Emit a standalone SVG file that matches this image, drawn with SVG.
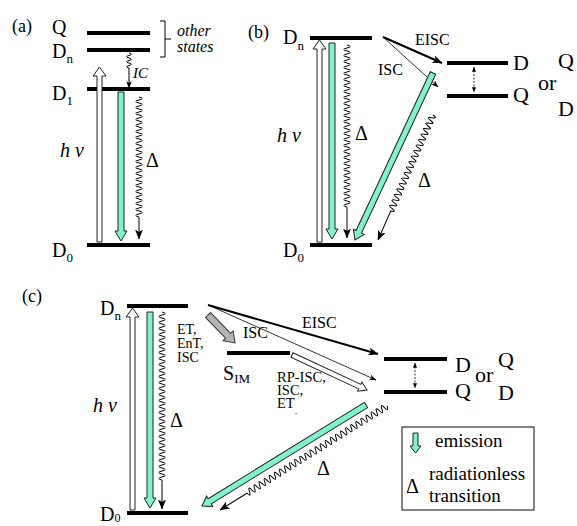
<svg xmlns="http://www.w3.org/2000/svg" width="577" height="526" viewBox="0 0 577 526" font-family="Liberation Serif, Times New Roman, DejaVu Serif, serif">
<style>
text{font-family:"Liberation Serif","Times New Roman","DejaVu Serif",serif;fill:#000}
.lv{stroke:#000;stroke-width:4;fill:none}
.em{fill:#80F2CC;stroke:#222;stroke-width:1}
.hv{fill:#fff;stroke:#222;stroke-width:1}
.gr{fill:#b4b4b4;stroke:#333;stroke-width:1}
.wv{fill:none;stroke:#000;stroke-width:1}
.lbl{font-size:20px}
.big{font-size:22px}
.sm{font-size:16px}
.it{font-style:italic}
</style>
<defs>
<marker id="ah" viewBox="0 0 10 8" refX="9.5" refY="4" markerWidth="10" markerHeight="8" markerUnits="userSpaceOnUse" orient="auto"><path d="M0 0L10 4L0 8L2.5 4z" fill="#000"/></marker>
<marker id="ahs" viewBox="0 0 10 8" refX="9.5" refY="4" markerWidth="7" markerHeight="5.6" markerUnits="userSpaceOnUse" orient="auto"><path d="M0 0L10 4L0 8L2.5 4z" fill="#000"/></marker>
<marker id="ahd" viewBox="0 0 10 8" refX="9.5" refY="4" markerWidth="5" markerHeight="4" markerUnits="userSpaceOnUse" orient="auto-start-reverse"><path d="M0 0L10 4L0 8z" fill="#000"/></marker>
</defs>

<!-- Panel (a) -->
<g id="panel-a">
<text x="12" y="32" font-size="18">(a)</text>
<g id="a-Q"><line class="lv" x1="87" y1="33" x2="150" y2="33"/><text class="lbl" x="52" y="34">Q</text></g>
<g id="a-Dn"><line class="lv" x1="87" y1="50" x2="150" y2="50"/><text class="lbl" x="52" y="58">D<tspan font-size="13" dy="5">n</tspan></text></g>
<g id="a-D1"><line class="lv" x1="87" y1="89" x2="150" y2="89"/><text class="lbl" x="52" y="100">D<tspan font-size="13" dy="5">1</tspan></text></g>
<g id="a-D0"><line class="lv" x1="87" y1="245" x2="150" y2="245"/><text class="lbl" x="52" y="257">D<tspan font-size="13" dy="5">0</tspan></text></g>
<g id="a-other"><path d="M160 21H165V57H160M165 39H171" fill="none" stroke="#000" stroke-width="1"/><text class="it" x="177" y="36" font-size="16">other</text><text class="it" x="177" y="52" font-size="16">states</text></g>
</g>

<!-- Panel (b) -->
<g id="panel-b">
<text x="248" y="38" font-size="18">(b)</text>
<g id="b-Dn"><line class="lv" x1="310" y1="38" x2="372" y2="38"/><text class="lbl" x="283" y="44">D<tspan font-size="13" dy="6">n</tspan></text></g>
<g id="b-D0"><line class="lv" x1="310" y1="245" x2="372" y2="245"/><text class="lbl" x="283" y="257">D<tspan font-size="13" dy="5">0</tspan></text></g>
<g id="b-upper"><line class="lv" x1="447" y1="63" x2="508" y2="63"/><text class="big" x="513" y="70">D</text><text class="big" x="558" y="68">Q</text></g>
<g id="b-lower"><line class="lv" x1="447" y1="96" x2="508" y2="96"/><text class="big" x="513" y="102">Q</text><text class="big" x="558" y="116">D</text></g>
<text class="big" x="538" y="90">or</text>
</g>

<!-- Panel (c) -->
<g id="panel-c">
<text x="22" y="302" font-size="18">(c)</text>
<g id="c-Dn"><line class="lv" x1="127" y1="306" x2="188" y2="306"/><text class="lbl" x="100" y="315">D<tspan font-size="13" dy="5">n</tspan></text></g>
<g id="c-D0"><line class="lv" x1="127" y1="513" x2="188" y2="513"/><text class="lbl" x="100" y="521">D<tspan font-size="12" dy="1">0</tspan></text></g>
<g id="c-SIM"><line class="lv" x1="227" y1="353" x2="290" y2="353"/><text class="lbl" x="223" y="380">S<tspan font-size="13" dy="3">IM</tspan></text></g>
<g id="c-upper"><line class="lv" x1="384" y1="359" x2="447" y2="359"/><text class="big" x="455" y="372">D</text><text class="big" x="498" y="367">Q</text></g>
<g id="c-lower"><line class="lv" x1="384" y1="392" x2="447" y2="392"/><text class="big" x="455" y="398">Q</text><text class="big" x="498" y="400">D</text></g>
<text class="big" x="475" y="382">or</text>
<g id="legend">
<rect x="402" y="427" width="132" height="83" fill="#fff" stroke="#333" stroke-width="1.2"/>
<polygon class="em" points="413,433 418,433 418,446 421,446 415.5,453 410,446 413,446"/>
<text x="435" y="447" font-size="19">emission</text>
<text x="406" y="493" font-size="20">Δ</text>
<text x="429" y="480" font-size="19">radiationless</text>
<text x="429" y="502" font-size="19">transition</text>
</g>
</g>

<!-- Connectors -->
<g id="connectors">
<!-- (a) -->
<polygon class="hv" points="97,242 97,76 93,76 99.5,67 106,76 102,76 102,242"/>
<polygon class="em" points="118,92 124,92 124,231 127,231 121,241 115,231 118,231"/>
<path class="wv" marker-end="url(#ahs)" d="M129 53q5 1.25 0 2.5t0 2.5t0 2.5t0 2.5t0 2.5t0 2.5L129 88"/>
<path class="wv" marker-end="url(#ah)" d="M139 97q6.5 1.5 0 3t0 3t0 3t0 3t0 3t0 3t0 3t0 3t0 3t0 3t0 3t0 3t0 3t0 3t0 3t0 3t0 3t0 3t0 3t0 3t0 3t0 3t0 3t0 3t0 3t0 3t0 3t0 3t0 3t0 3t0 3t0 3t0 3t0 3t0 3t0 3t0 3t0 3t0 3t0 3L139 239"/>
<text class="it" x="133" y="78" font-size="15">IC</text>
<text class="it" x="60" y="157" font-size="20">h</text><text class="it" x="75" y="157" font-size="20">ν</text>
<text x="146" y="167" font-size="20">Δ</text>

<!-- (b) -->
<polygon class="hv" points="317,242 317,49 313,49 319.5,40 326,49 322,49 322,242"/>
<polygon class="em" points="329,43 335,43 335,229 338,229 332,239 326,229 329,229"/>
<path class="wv" marker-end="url(#ah)" d="M347 45q6.5 1.5 0 3t0 3t0 3t0 3t0 3t0 3t0 3t0 3t0 3t0 3t0 3t0 3t0 3t0 3t0 3t0 3t0 3t0 3t0 3t0 3t0 3t0 3t0 3t0 3t0 3t0 3t0 3t0 3t0 3t0 3t0 3t0 3t0 3t0 3t0 3t0 3t0 3t0 3t0 3t0 3t0 3t0 3t0 3t0 3t0 3t0 3t0 3t0 3t0 3t0 3t0 3t0 3t0 3t0 3L347 238"/>
<line x1="383" y1="37" x2="442" y2="63" stroke="#000" stroke-width="2" marker-end="url(#ah)"/>
<line x1="383" y1="37" x2="438" y2="87" stroke="#000" stroke-width="0.8" marker-end="url(#ahs)"/>
<line x1="474" y1="67" x2="474" y2="92" stroke="#000" stroke-width="0.8" stroke-dasharray="2 1.5" marker-start="url(#ahd)" marker-end="url(#ahd)"/>
<polygon class="em" transform="translate(433 73) rotate(115.04)" points="0,-3 175.3,-3 175.3,-6 184.3,0 175.3,6 175.3,3 0,3"/>
<path class="wv" marker-end="url(#ah)" transform="translate(433 115) rotate(113.75)" d="M0 0q1.5 -6.5 3 0t3 0t3 0t3 0t3 0t3 0t3 0t3 0t3 0t3 0t3 0t3 0t3 0t3 0t3 0t3 0t3 0t3 0t3 0t3 0t3 0t3 0t3 0t3 0t3 0t3 0t3 0t3 0t3 0t3 0t3 0t3 0t3 0t3 0t3 0L136.6 0"/>
<text class="sm" x="415" y="45">EISC</text>
<text class="sm" x="378" y="75">ISC</text>
<text class="it" x="277" y="142" font-size="20">h</text><text class="it" x="292" y="142" font-size="20">ν</text>
<text x="355" y="140" font-size="20">Δ</text>
<text x="418" y="187" font-size="20">Δ</text>

<!-- (c) -->
<polygon class="hv" points="130,510 130,317 126,317 132.5,308 139,317 135,317 135,510"/>
<polygon class="em" points="147,312 153,312 153,498 156,498 150,508 144,498 147,498"/>
<path class="wv" marker-end="url(#ah)" d="M162 312q6.5 1.5 0 3t0 3t0 3t0 3t0 3t0 3t0 3t0 3t0 3t0 3t0 3t0 3t0 3t0 3t0 3t0 3t0 3t0 3t0 3t0 3t0 3t0 3t0 3t0 3t0 3t0 3t0 3t0 3t0 3t0 3t0 3t0 3t0 3t0 3t0 3t0 3t0 3t0 3t0 3t0 3t0 3t0 3t0 3t0 3t0 3t0 3t0 3t0 3t0 3t0 3t0 3t0 3t0 3t0 3t0 3t0 3L162 509"/>
<polygon class="gr" transform="translate(208 315) rotate(46)" points="0,-3.5 28.9,-3.5 28.9,-7 38.9,0 28.9,7 28.9,3.5 0,3.5"/>
<line x1="208" y1="305" x2="378" y2="354" stroke="#000" stroke-width="2" marker-end="url(#ah)"/>
<line x1="208" y1="305" x2="376" y2="380" stroke="#000" stroke-width="0.8" marker-end="url(#ahs)"/>
<polygon class="hv" transform="translate(292 355) rotate(25)" points="0,-2.5 74.8,-2.5 74.8,-5 82.8,0 74.8,5 74.8,2.5 0,2.5"/>
<line x1="415" y1="363" x2="415" y2="388" stroke="#000" stroke-width="0.8" stroke-dasharray="2 1.5" marker-start="url(#ahd)" marker-end="url(#ahd)"/>
<polygon class="em" transform="translate(366 405) rotate(148.37)" points="0,-3 183.6,-3 183.6,-6 192.6,0 183.6,6 183.6,3 0,3"/>
<path class="wv" marker-end="url(#ah)" transform="translate(387 406) rotate(148.09)" d="M0 0q1.5 -6.5 3 0t3 0t3 0t3 0t3 0t3 0t3 0t3 0t3 0t3 0t3 0t3 0t3 0t3 0t3 0t3 0t3 0t3 0t3 0t3 0t3 0t3 0t3 0t3 0t3 0t3 0t3 0t3 0t3 0t3 0t3 0t3 0t3 0t3 0t3 0t3 0t3 0t3 0t3 0t3 0t3 0t3 0t3 0t3 0t3 0t3 0t3 0t3 0t3 0t3 0t3 0t3 0t3 0t3 0t3 0L196.7 0"/>
<text x="177" y="334" font-size="14">ET,</text>
<text x="177" y="348" font-size="14">EnT,</text>
<text x="177" y="362" font-size="14">ISC</text>
<text class="sm" x="243" y="338">ISC</text>
<text class="sm" x="302" y="328">EISC</text>
<text x="277" y="382" font-size="14.5">RP-ISC,</text>
<text x="277" y="395" font-size="14.5">ISC,</text>
<text x="277" y="408" font-size="14.5">ET<tspan font-size="10" dy="6">.</tspan></text>
<text class="it" x="93" y="412" font-size="20">h</text><text class="it" x="108" y="412" font-size="20">ν</text>
<text x="170" y="427" font-size="20">Δ</text>
<text x="317" y="475" font-size="20">Δ</text>
</g>
</svg>
